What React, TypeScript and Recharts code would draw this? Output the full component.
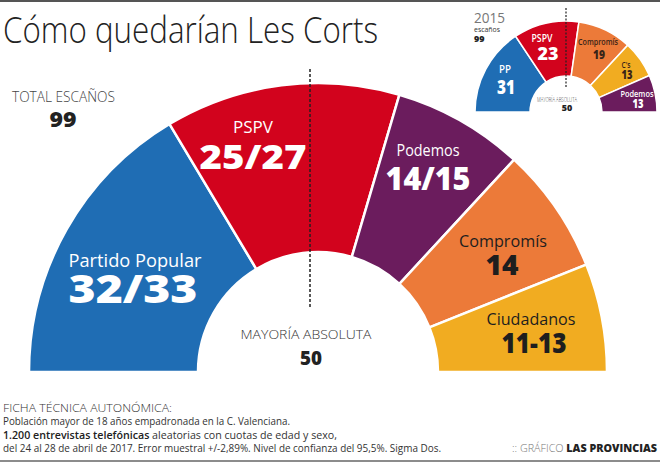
import { PieChart, Pie, Cell } from 'recharts'

// encuesta Sigma Dos, abril 2017 (rangos -> punto medio para el arco)
const PARTIES = ['Partido Popular', 'PSPV', 'Podemos', 'Compromís', 'Ciudadanos']
const SEATS = [32.5, 26, 14.5, 14, 12]
const SEAT_LABELS = ['32/33', '25/27', '14/15', '14', '11-13']

// resultado 2015
const PARTIES_2015 = ['PP', 'PSPV', 'Compromís', "C's", 'Podemos']
const SEATS_2015 = [31, 23, 19, 13, 13]

const TOTAL = 99
const MAJORITY = 50

const COLORS: Record<string, string> = {
  'Partido Popular': '#1f6db4',
  'PP':              '#1f6db4',
  'PSPV':            '#d2031d',
  'Podemos':         '#6b1c5d',
  'Compromís':       '#ec7a39',
  'Ciudadanos':      '#f1ac21',
  "C's":             '#f1ac21',
}

const DARK_TEXT = new Set(['Compromís', 'Ciudadanos', "C's"])

const mainData = PARTIES.map((name, i) => ({ name, value: SEATS[i], label: SEAT_LABELS[i] }))
const data2015 = PARTIES_2015.map((name, i) => ({ name, value: SEATS_2015[i] }))

type Lbl = { x: number; y1: number; y2: number; f1: number; f2: number; w1: number; w2: number; x2?: number }

// label anchors: center x, name / number baselines, font sizes, text widths
const MAIN_LABELS: Record<string, Lbl> = {
  'Partido Popular': { x: 135, y1: 267, y2: 303, f1: 18, f2: 39, w1: 133, w2: 129, x2: 133 },
  'PSPV':            { x: 253, y1: 133, y2: 169, f1: 16, f2: 34, w1: 40, w2: 107 },
  'Podemos':         { x: 428, y1: 156, y2: 190, f1: 17, f2: 31, w1: 63, w2: 85 },
  'Compromís':       { x: 503, y1: 247, y2: 275, f1: 17, f2: 29, w1: 88, w2: 33, x2: 502 },
  'Ciudadanos':      { x: 531, y1: 325, y2: 353, f1: 17, f2: 29, w1: 89, w2: 65, x2: 534 },
}

const INSET_LABELS: Record<string, Lbl> = {
  'PP':        { x: 505, y1: 73, y2: 94, f1: 11, f2: 19, w1: 12, w2: 18, x2: 506 },
  'PSPV':      { x: 542, y1: 42, y2: 60, f1: 11, f2: 18, w1: 21, w2: 21, x2: 548 },
  'Compromís': { x: 598, y1: 45, y2: 59, f1: 9, f2: 13, w1: 40, w2: 12, x2: 599 },
  "C's":       { x: 626, y1: 68, y2: 79, f1: 9, f2: 13, w1: 9, w2: 11, x2: 627 },
  'Podemos':   { x: 637, y1: 97, y2: 108, f1: 9, f2: 13, w1: 33, w2: 11, x2: 638 },
}

const FONT = '"Open Sans", sans-serif'

export default function App() {
  return (
    <div style={{ position: 'absolute', left: 0, top: 0, width: 660, height: 465, background: '#fff', overflow: 'hidden' }}>
      <div style={{ position: 'absolute', left: 0, top: 0 }}>
        <PieChart width={660} height={465} margin={{ top: 0, right: 0, bottom: 0, left: 0 }}>
          <Pie
            data={mainData}
            dataKey="value"
            cx={318}
            cy={372}
            innerRadius={120}
            outerRadius={289}
            startAngle={180}
            endAngle={0}
            stroke="#fff"
            strokeWidth={2.5}
            isAnimationActive={false}
          >
            {mainData.map((d) => (
              <Cell key={d.name} fill={COLORS[d.name]} />
            ))}
          </Pie>
          <Pie
            data={data2015}
            dataKey="value"
            cx={566}
            cy={112}
            innerRadius={36}
            outerRadius={91}
            startAngle={180}
            endAngle={0}
            stroke="#fff"
            strokeWidth={1.5}
            isAnimationActive={false}
          >
            {data2015.map((d) => (
              <Cell key={d.name} fill={COLORS[d.name]} />
            ))}
          </Pie>
        </PieChart>
      </div>

      <svg width={660} height={465} style={{ position: 'absolute', left: 0, top: 0, pointerEvents: 'none' }}>
        {/* frame lines */}
        <line x1={0} y1={1} x2={660} y2={1} stroke="#555" strokeWidth={2} />
        <line x1={0} y1={461} x2={660} y2={461} stroke="#666" strokeWidth={1.5} />

        {/* title */}
        <text x={3} y={43} fontFamily={FONT} fontWeight={300} fontSize={36} fill="#222"
          textLength={375} lengthAdjust="spacingAndGlyphs">
          Cómo quedarían Les Corts
        </text>

        <text x={12} y={102} fontFamily={FONT} fontWeight={300} fontSize={14} fill="#444"
          textLength={103} lengthAdjust="spacingAndGlyphs">
          TOTAL ESCAÑOS
        </text>
        <text x={63} y={127} textAnchor="middle" fontFamily={FONT} fontWeight={800} fontSize={21} fill="#222"
          textLength={27} lengthAdjust="spacingAndGlyphs">
          {TOTAL}
        </text>

        {/* majority line */}
        <line x1={310} y1={69} x2={310} y2={307} stroke="#222" strokeWidth={1.5} strokeDasharray="3 2" />
        <text x={306} y={339} textAnchor="middle" fontFamily={FONT} fontWeight={300} fontSize={13.5} fill="#333"
          textLength={131} lengthAdjust="spacingAndGlyphs">
          MAYORÍA ABSOLUTA
        </text>
        <text x={311} y={365} textAnchor="middle" fontFamily={FONT} fontWeight={800} fontSize={20} fill="#222"
          textLength={22} lengthAdjust="spacingAndGlyphs">
          {MAJORITY}
        </text>

        {mainData.map((d) => {
          const p = MAIN_LABELS[d.name]
          const c = DARK_TEXT.has(d.name) ? '#1e1e1e' : '#fff'
          return (
            <g key={d.name}>
              <text x={p.x} y={p.y1} textAnchor="middle" fontFamily={FONT} fontWeight={400} fontSize={p.f1} fill={c}
                textLength={p.w1} lengthAdjust="spacingAndGlyphs">
                {d.name}
              </text>
              <text x={p.x2 ?? p.x} y={p.y2} textAnchor="middle" fontFamily={FONT} fontWeight={800} fontSize={p.f2} fill={c}
                textLength={p.w2} lengthAdjust="spacingAndGlyphs">
                {d.label}
              </text>
            </g>
          )
        })}

        {/* inset 2015 */}
        <text x={474} y={23} fontFamily={FONT} fontWeight={400} fontSize={14} fill="#777"
          textLength={31} lengthAdjust="spacingAndGlyphs">2015</text>
        <text x={474} y={32} fontFamily={FONT} fontWeight={400} fontSize={7.5} fill="#333"
          textLength={26} lengthAdjust="spacingAndGlyphs">escaños</text>
        <text x={474} y={42} fontFamily={FONT} fontWeight={800} fontSize={9} fill="#222">{TOTAL}</text>
        <line x1={566} y1={8} x2={566} y2={87} stroke="#222" strokeWidth={1.2} strokeDasharray="2 1.5" />
        <text x={557} y={102} textAnchor="middle" fontFamily={FONT} fontWeight={300} fontSize={6.5} fill="#444"
          textLength={40} lengthAdjust="spacingAndGlyphs">
          MAYORÍA ABSOLUTA
        </text>
        <text x={567} y={111} textAnchor="middle" fontFamily={FONT} fontWeight={800} fontSize={9} fill="#222">
          {MAJORITY}
        </text>
        {data2015.map((d) => {
          const p = INSET_LABELS[d.name]
          const c = DARK_TEXT.has(d.name) ? '#3a2418' : '#fff'
          return (
            <g key={d.name}>
              <text x={p.x} y={p.y1} textAnchor="middle" fontFamily={FONT} fontWeight={600} fontSize={p.f1} fill={c}
                textLength={p.w1} lengthAdjust="spacingAndGlyphs">
                {d.name}
              </text>
              <text x={p.x2 ?? p.x} y={p.y2} textAnchor="middle" fontFamily={FONT} fontWeight={800} fontSize={p.f2} fill={c}
                textLength={p.w2} lengthAdjust="spacingAndGlyphs">
                {d.value}
              </text>
            </g>
          )
        })}

        {/* ficha técnica */}
        <g fontFamily={FONT} fontSize={11} fill="#333" fontWeight={400}>
          <text x={3} y={412} fontWeight={300} textLength={169} lengthAdjust="spacingAndGlyphs">FICHA TÉCNICA AUTONÓMICA:</text>
          <text x={3} y={425} textLength={287} lengthAdjust="spacingAndGlyphs">Población mayor de 18 años empadronada en la C. Valenciana.</text>
          <text x={3} y={439} textLength={334} lengthAdjust="spacingAndGlyphs">
            <tspan fontWeight={600} fill="#222">1.200 entrevistas telefónicas</tspan> aleatorias con cuotas de edad y sexo,
          </text>
          <text x={3} y={452} textLength={438} lengthAdjust="spacingAndGlyphs">del 24 al 28 de abril de 2017. Error muestral +/-2,89%. Nivel de confianza del 95,5%. Sigma Dos.</text>
        </g>
        <text x={657} y={452} textAnchor="end" fontFamily={FONT} fontSize={10.5} fill="#777" fontWeight={300}
          textLength={145} lengthAdjust="spacingAndGlyphs">
          :: GRÁFICO <tspan fontWeight={800} fill="#222">LAS PROVINCIAS</tspan>
        </text>
      </svg>
    </div>
  )
}
